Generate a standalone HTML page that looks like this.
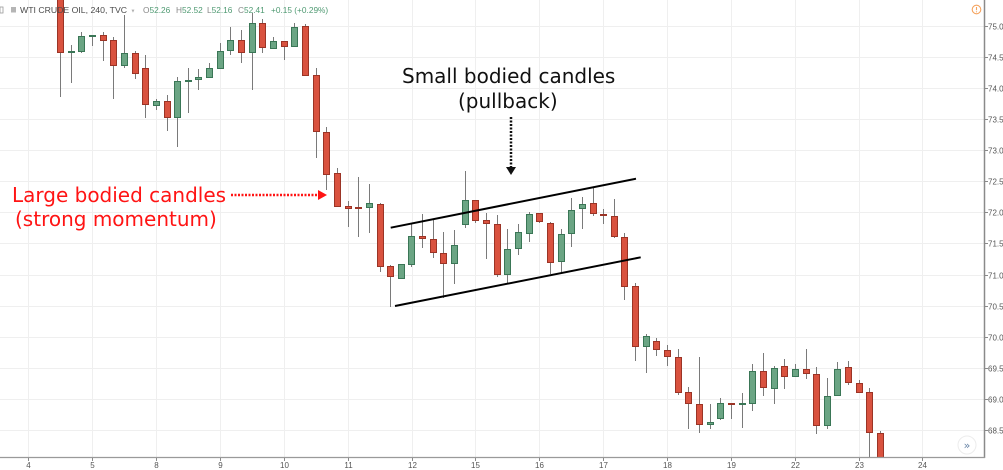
<!DOCTYPE html>
<html><head><meta charset="utf-8"><style>
html,body{margin:0;padding:0;background:#fff;}
svg{display:block;}
</style></head><body>
<svg width="1003" height="470" viewBox="0 0 1003 470" xmlns="http://www.w3.org/2000/svg">
<defs><clipPath id="plot"><rect x="0" y="0" width="984" height="457"/></clipPath></defs>
<rect width="1003" height="470" fill="#fff"/>
<!-- grid -->
<g stroke="#efefef" stroke-width="1">
<line x1="0" x2="984" y1="26.5" y2="26.5"/><line x1="0" x2="984" y1="57.5" y2="57.5"/><line x1="0" x2="984" y1="88.5" y2="88.5"/><line x1="0" x2="984" y1="119.5" y2="119.5"/><line x1="0" x2="984" y1="150.5" y2="150.5"/><line x1="0" x2="984" y1="181.5" y2="181.5"/><line x1="0" x2="984" y1="212.5" y2="212.5"/><line x1="0" x2="984" y1="243.5" y2="243.5"/><line x1="0" x2="984" y1="275.5" y2="275.5"/><line x1="0" x2="984" y1="306.5" y2="306.5"/><line x1="0" x2="984" y1="337.5" y2="337.5"/><line x1="0" x2="984" y1="368.5" y2="368.5"/><line x1="0" x2="984" y1="399.5" y2="399.5"/><line x1="0" x2="984" y1="430.5" y2="430.5"/>
<line x1="28.5" x2="28.5" y1="0" y2="457"/><line x1="92.5" x2="92.5" y1="0" y2="457"/><line x1="156.5" x2="156.5" y1="0" y2="457"/><line x1="220.5" x2="220.5" y1="0" y2="457"/><line x1="284.5" x2="284.5" y1="0" y2="457"/><line x1="348.5" x2="348.5" y1="0" y2="457"/><line x1="412.5" x2="412.5" y1="0" y2="457"/><line x1="475.5" x2="475.5" y1="0" y2="457"/><line x1="539.5" x2="539.5" y1="0" y2="457"/><line x1="603.5" x2="603.5" y1="0" y2="457"/><line x1="667.5" x2="667.5" y1="0" y2="457"/><line x1="731.5" x2="731.5" y1="0" y2="457"/><line x1="795.5" x2="795.5" y1="0" y2="457"/><line x1="859.5" x2="859.5" y1="0" y2="457"/><line x1="922.5" x2="922.5" y1="0" y2="457"/>
</g>
<g clip-path="url(#plot)">
<!-- wicks -->
<g stroke="#7a7a7a" stroke-width="1">
<line x1="60.5" x2="60.5" y1="-5" y2="97"/><line x1="71.5" x2="71.5" y1="45" y2="83"/><line x1="81.5" x2="81.5" y1="32" y2="53"/><line x1="92.5" x2="92.5" y1="35" y2="46"/><line x1="103.5" x2="103.5" y1="32" y2="61"/><line x1="113.5" x2="113.5" y1="37" y2="99"/><line x1="124.5" x2="124.5" y1="15" y2="68"/><line x1="135.5" x2="135.5" y1="51" y2="79"/><line x1="145.5" x2="145.5" y1="55" y2="118"/><line x1="156.5" x2="156.5" y1="99" y2="110"/><line x1="167.5" x2="167.5" y1="95" y2="131"/><line x1="177.5" x2="177.5" y1="77" y2="147"/><line x1="188.5" x2="188.5" y1="68" y2="113"/><line x1="198.5" x2="198.5" y1="69" y2="90"/><line x1="209.5" x2="209.5" y1="63" y2="78"/><line x1="220.5" x2="220.5" y1="43" y2="69"/><line x1="230.5" x2="230.5" y1="27" y2="55"/><line x1="241.5" x2="241.5" y1="30" y2="63"/><line x1="252.5" x2="252.5" y1="13" y2="90"/><line x1="262.5" x2="262.5" y1="19" y2="53"/><line x1="273.5" x2="273.5" y1="37" y2="49"/><line x1="284.5" x2="284.5" y1="41" y2="60"/><line x1="294.5" x2="294.5" y1="23" y2="47"/><line x1="305.5" x2="305.5" y1="24" y2="76"/><line x1="316.5" x2="316.5" y1="68" y2="158"/><line x1="326.5" x2="326.5" y1="127" y2="190"/><line x1="337.5" x2="337.5" y1="168" y2="207"/><line x1="348.5" x2="348.5" y1="201" y2="227"/><line x1="358.5" x2="358.5" y1="177" y2="237"/><line x1="369.5" x2="369.5" y1="184" y2="233"/><line x1="380.5" x2="380.5" y1="203" y2="272"/><line x1="390.5" x2="390.5" y1="265" y2="307"/><line x1="401.5" x2="401.5" y1="264" y2="279"/><line x1="411.5" x2="411.5" y1="223" y2="267"/><line x1="422.5" x2="422.5" y1="214" y2="248"/><line x1="433.5" x2="433.5" y1="220" y2="258"/><line x1="443.5" x2="443.5" y1="232" y2="298"/><line x1="454.5" x2="454.5" y1="230" y2="284"/><line x1="465.5" x2="465.5" y1="171" y2="228"/><line x1="475.5" x2="475.5" y1="200" y2="223"/><line x1="486.5" x2="486.5" y1="213" y2="259"/><line x1="497.5" x2="497.5" y1="215" y2="277"/><line x1="507.5" x2="507.5" y1="229" y2="283"/><line x1="518.5" x2="518.5" y1="224" y2="255"/><line x1="529.5" x2="529.5" y1="212" y2="242"/><line x1="539.5" x2="539.5" y1="213" y2="223"/><line x1="550.5" x2="550.5" y1="222" y2="274"/><line x1="561.5" x2="561.5" y1="229" y2="273"/><line x1="571.5" x2="571.5" y1="198" y2="247"/><line x1="582.5" x2="582.5" y1="197" y2="229"/><line x1="593.5" x2="593.5" y1="188" y2="216"/><line x1="603.5" x2="603.5" y1="209" y2="224"/><line x1="614.5" x2="614.5" y1="199" y2="238"/><line x1="624.5" x2="624.5" y1="233" y2="300"/><line x1="635.5" x2="635.5" y1="283" y2="361"/><line x1="646.5" x2="646.5" y1="334" y2="373"/><line x1="656.5" x2="656.5" y1="338" y2="356"/><line x1="667.5" x2="667.5" y1="345" y2="366"/><line x1="678.5" x2="678.5" y1="349" y2="395"/><line x1="688.5" x2="688.5" y1="387" y2="429"/><line x1="699.5" x2="699.5" y1="357" y2="433"/><line x1="710.5" x2="710.5" y1="404" y2="429"/><line x1="720.5" x2="720.5" y1="398" y2="420"/><line x1="731.5" x2="731.5" y1="403" y2="419"/><line x1="742.5" x2="742.5" y1="393" y2="428"/><line x1="752.5" x2="752.5" y1="364" y2="411"/><line x1="763.5" x2="763.5" y1="353" y2="396"/><line x1="774.5" x2="774.5" y1="366" y2="404"/><line x1="784.5" x2="784.5" y1="359" y2="389"/><line x1="795.5" x2="795.5" y1="364" y2="377"/><line x1="806.5" x2="806.5" y1="349" y2="379"/><line x1="816.5" x2="816.5" y1="367" y2="434"/><line x1="827.5" x2="827.5" y1="378" y2="429"/><line x1="837.5" x2="837.5" y1="362" y2="396"/><line x1="848.5" x2="848.5" y1="361" y2="385"/><line x1="859.5" x2="859.5" y1="380" y2="393"/><line x1="869.5" x2="869.5" y1="388" y2="457"/><line x1="880.5" x2="880.5" y1="431" y2="457"/>
</g>
<!-- red bodies -->
<g fill="#d9523f" stroke="#9b3426" stroke-width="1">
<rect x="57.5" y="-4.5" width="6" height="57"/><rect x="100.5" y="35.5" width="6" height="5"/><rect x="110.5" y="40.5" width="6" height="25"/><rect x="132.5" y="53.5" width="6" height="20"/><rect x="142.5" y="68.5" width="6" height="36"/><rect x="164.5" y="101.5" width="6" height="16"/><rect x="238.5" y="40.5" width="6" height="12"/><rect x="259.5" y="23.5" width="6" height="24"/><rect x="281.5" y="41.5" width="6" height="5"/><rect x="302.5" y="26.5" width="6" height="49"/><rect x="313.5" y="75.5" width="6" height="56"/><rect x="323.5" y="132.5" width="6" height="42"/><rect x="334.5" y="173.5" width="6" height="33"/><rect x="345.5" y="206.5" width="6" height="2"/><rect x="355.5" y="207.5" width="6" height="1"/><rect x="377.5" y="204.5" width="6" height="62"/><rect x="387.5" y="266.5" width="6" height="10"/><rect x="419.5" y="236.5" width="6" height="2"/><rect x="430.5" y="239.5" width="6" height="13"/><rect x="440.5" y="253.5" width="6" height="10"/><rect x="472.5" y="200.5" width="6" height="20"/><rect x="483.5" y="220.5" width="6" height="3"/><rect x="494.5" y="224.5" width="6" height="50"/><rect x="536.5" y="213.5" width="6" height="8"/><rect x="547.5" y="223.5" width="6" height="39"/><rect x="590.5" y="203.5" width="6" height="10"/><rect x="600.5" y="214.5" width="6" height="1"/><rect x="611.5" y="216.5" width="6" height="20"/><rect x="621.5" y="237.5" width="6" height="49"/><rect x="632.5" y="286.5" width="6" height="60"/><rect x="653.5" y="341.5" width="6" height="8"/><rect x="664.5" y="350.5" width="6" height="6"/><rect x="675.5" y="357.5" width="6" height="35"/><rect x="685.5" y="392.5" width="6" height="11"/><rect x="696.5" y="404.5" width="6" height="20"/><rect x="728.5" y="403.5" width="6" height="1"/><rect x="760.5" y="371.5" width="6" height="16"/><rect x="781.5" y="366.5" width="6" height="10"/><rect x="803.5" y="369.5" width="6" height="4"/><rect x="813.5" y="374.5" width="6" height="51"/><rect x="845.5" y="367.5" width="6" height="15"/><rect x="856.5" y="383.5" width="6" height="9"/><rect x="866.5" y="392.5" width="6" height="40"/><rect x="877.5" y="433.5" width="6" height="30"/>
</g>
<!-- green bodies -->
<g fill="#6ba584" stroke="#3a7656" stroke-width="1">
<rect x="68.5" y="51.5" width="6" height="1"/><rect x="78.5" y="36.5" width="6" height="15"/><rect x="89.5" y="35.5" width="6" height="1"/><rect x="121.5" y="53.5" width="6" height="12"/><rect x="153.5" y="101.5" width="6" height="4"/><rect x="174.5" y="81.5" width="6" height="36"/><rect x="185.5" y="80.5" width="6" height="1"/><rect x="195.5" y="77.5" width="6" height="2"/><rect x="206.5" y="68.5" width="6" height="9"/><rect x="217.5" y="51.5" width="6" height="17"/><rect x="227.5" y="40.5" width="6" height="10"/><rect x="249.5" y="23.5" width="6" height="29"/><rect x="270.5" y="41.5" width="6" height="7"/><rect x="291.5" y="27.5" width="6" height="19"/><rect x="366.5" y="203.5" width="6" height="4"/><rect x="398.5" y="264.5" width="6" height="14"/><rect x="408.5" y="236.5" width="6" height="28"/><rect x="451.5" y="245.5" width="6" height="18"/><rect x="462.5" y="200.5" width="6" height="24"/><rect x="504.5" y="249.5" width="6" height="25"/><rect x="515.5" y="232.5" width="6" height="16"/><rect x="526.5" y="214.5" width="6" height="19"/><rect x="558.5" y="234.5" width="6" height="27"/><rect x="568.5" y="210.5" width="6" height="23"/><rect x="579.5" y="204.5" width="6" height="4"/><rect x="643.5" y="336.5" width="6" height="10"/><rect x="707.5" y="422.5" width="6" height="2"/><rect x="717.5" y="403.5" width="6" height="15"/><rect x="739.5" y="403.5" width="6" height="1"/><rect x="749.5" y="371.5" width="6" height="32"/><rect x="771.5" y="368.5" width="6" height="20"/><rect x="792.5" y="369.5" width="6" height="7"/><rect x="824.5" y="396.5" width="6" height="29"/><rect x="834.5" y="369.5" width="6" height="26"/>
</g>
</g>
<!-- axes -->
<line x1="984.5" x2="984.5" y1="0" y2="458" stroke="#8a8a8a" stroke-width="1.5"/>
<line x1="0" x2="985" y1="457.5" y2="457.5" stroke="#9a9a9a" stroke-width="1.2"/>
<g stroke="#8a8a8a" stroke-width="1">
<line x1="984" x2="988" y1="26.5" y2="26.5"/><line x1="984" x2="988" y1="57.5" y2="57.5"/><line x1="984" x2="988" y1="88.5" y2="88.5"/><line x1="984" x2="988" y1="119.5" y2="119.5"/><line x1="984" x2="988" y1="150.5" y2="150.5"/><line x1="984" x2="988" y1="181.5" y2="181.5"/><line x1="984" x2="988" y1="212.5" y2="212.5"/><line x1="984" x2="988" y1="243.5" y2="243.5"/><line x1="984" x2="988" y1="275.5" y2="275.5"/><line x1="984" x2="988" y1="306.5" y2="306.5"/><line x1="984" x2="988" y1="337.5" y2="337.5"/><line x1="984" x2="988" y1="368.5" y2="368.5"/><line x1="984" x2="988" y1="399.5" y2="399.5"/><line x1="984" x2="988" y1="430.5" y2="430.5"/>
<line x1="28.5" x2="28.5" y1="458" y2="461"/><line x1="92.5" x2="92.5" y1="458" y2="461"/><line x1="156.5" x2="156.5" y1="458" y2="461"/><line x1="220.5" x2="220.5" y1="458" y2="461"/><line x1="284.5" x2="284.5" y1="458" y2="461"/><line x1="348.5" x2="348.5" y1="458" y2="461"/><line x1="412.5" x2="412.5" y1="458" y2="461"/><line x1="475.5" x2="475.5" y1="458" y2="461"/><line x1="539.5" x2="539.5" y1="458" y2="461"/><line x1="603.5" x2="603.5" y1="458" y2="461"/><line x1="667.5" x2="667.5" y1="458" y2="461"/><line x1="731.5" x2="731.5" y1="458" y2="461"/><line x1="795.5" x2="795.5" y1="458" y2="461"/><line x1="859.5" x2="859.5" y1="458" y2="461"/><line x1="922.5" x2="922.5" y1="458" y2="461"/>
</g>
<g font-family="Liberation Sans, sans-serif" font-size="8" fill="#555">
<text x="988" y="29.5">75.00</text><text x="988" y="60.5">74.50</text><text x="988" y="91.5">74.00</text><text x="988" y="122.5">73.50</text><text x="988" y="153.5">73.00</text><text x="988" y="184.5">72.50</text><text x="988" y="215.5">72.00</text><text x="988" y="246.5">71.50</text><text x="988" y="278.5">71.00</text><text x="988" y="309.5">70.50</text><text x="988" y="340.5">70.00</text><text x="988" y="371.5">69.50</text><text x="988" y="402.5">69.00</text><text x="988" y="433.5">68.50</text>
</g>
<g font-family="Liberation Sans, sans-serif" font-size="8" fill="#555" text-anchor="middle">
<text x="28.5" y="468">4</text><text x="92.5" y="468">5</text><text x="156.5" y="468">8</text><text x="220.5" y="468">9</text><text x="284.5" y="468">10</text><text x="348.5" y="468">11</text><text x="412.5" y="468">12</text><text x="475.5" y="468">15</text><text x="539.5" y="468">16</text><text x="603.5" y="468">17</text><text x="667.5" y="468">18</text><text x="731.5" y="468">19</text><text x="795.5" y="468">22</text><text x="859.5" y="468">23</text><text x="922.5" y="468">24</text>
</g>
<!-- header -->
<rect x="0" y="7" width="3" height="6" fill="none" stroke="#999" stroke-width="0.8"/>
<rect x="11" y="7" width="5" height="5.5" fill="#b5b5b5"/>
<g font-family="Liberation Sans, sans-serif">
<text x="20" y="13" fill="#4a4a4a" font-size="8.7">WTI CRUDE OIL, 240, TVC</text>
<text x="130.5" y="12.5" fill="#b0b0b0" font-size="5">▼</text>
<g font-size="8.3">
<text x="143" y="13"><tspan fill="#888">O</tspan><tspan fill="#4f9a72">52.26</tspan></text>
<text x="176" y="13"><tspan fill="#888">H</tspan><tspan fill="#4f9a72">52.52</tspan></text>
<text x="207" y="13"><tspan fill="#888">L</tspan><tspan fill="#4f9a72">52.16</tspan></text>
<text x="238" y="13"><tspan fill="#888">C</tspan><tspan fill="#4f9a72">52.41</tspan></text>
<text x="271" y="13" fill="#4f9a72">+0.15 (+0.29%)</text>
</g>
</g>
<!-- warning icon -->
<circle cx="976.5" cy="9.5" r="4.3" fill="none" stroke="#f5a35e" stroke-width="1.1"/>
<line x1="976.5" x2="976.5" y1="7" y2="10.2" stroke="#f5a35e" stroke-width="1.1"/>
<circle cx="976.5" cy="11.8" r="0.6" fill="#f5a35e"/>
<!-- scroll button -->
<circle cx="967" cy="445" r="9" fill="#fff" stroke="#ececec" stroke-width="1"/>
<text x="967" y="449" text-anchor="middle" font-family="DejaVu Sans, sans-serif" font-size="11" fill="#6a86a8">»</text>
<!-- channel lines -->
<line x1="390.7" y1="227.7" x2="636" y2="178.7" stroke="#000" stroke-width="2"/>
<line x1="395" y1="306" x2="640.7" y2="257.3" stroke="#000" stroke-width="2"/>
<!-- annotations -->
<g font-family="DejaVu Sans, Verdana, sans-serif" font-size="20">
<text x="12" y="202" fill="#ff1414">Large bodied candles</text>
<text x="15" y="226" fill="#ff1414">(strong momentum)</text>
<text x="402" y="83" fill="#111">Small bodied candles</text>
<text x="458" y="108" fill="#111">(pullback)</text>
</g>
<line x1="231" y1="195" x2="318" y2="195" stroke="#ff1414" stroke-width="2.5" stroke-dasharray="2 1.5"/>
<polygon points="318,190 327,195 318,200" fill="#ff1414"/>
<line x1="511" y1="117" x2="511" y2="167" stroke="#111" stroke-width="2.5" stroke-dasharray="2 1.5"/>
<polygon points="506,167 516,167 511,175" fill="#111"/>
</svg>
</body></html>
